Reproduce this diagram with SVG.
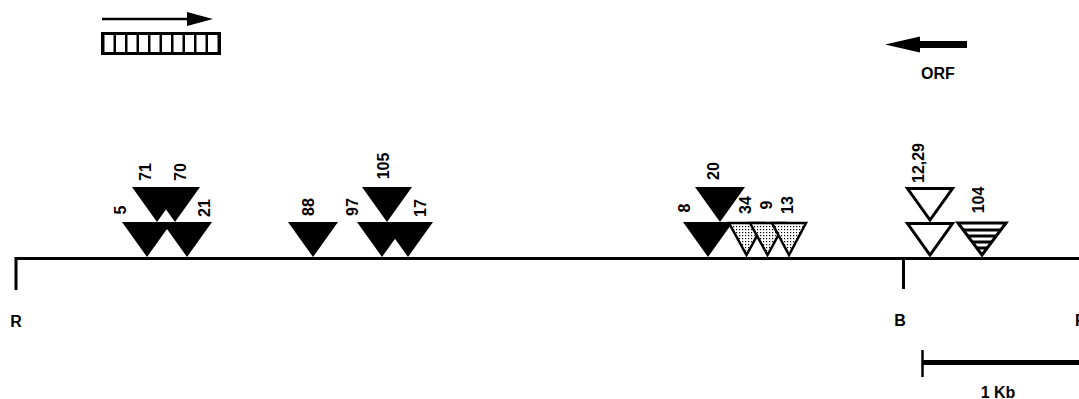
<svg xmlns="http://www.w3.org/2000/svg" width="1079" height="399" viewBox="0 0 1079 399">
<style>
.lbl{font-family:"Liberation Sans",Arial,sans-serif;font-size:16px;font-weight:bold;fill:#000}
.num{font-family:"Liberation Sans",Arial,sans-serif;font-size:16px;font-weight:bold;fill:#000;text-anchor:middle}
.blk{fill:#000}
.wht{fill:#fff;stroke:#000;stroke-width:3;stroke-linejoin:miter}
.dot{fill:url(#dots);stroke:#000;stroke-width:2.5}
.ln{stroke:#000;fill:none}
</style>
<defs>
<pattern id="dots" width="3" height="3" patternUnits="userSpaceOnUse">
<rect width="3" height="3" fill="#fff"/>
<rect x="1" y="1" width="1.2" height="1.2" fill="#000"/>
</pattern>
<clipPath id="tri104"><polygon points="958,223 1006,223 982,255"/></clipPath>
</defs>
<rect width="1079" height="399" fill="#fff"/>

<g id="transcript-arrow">
<line class="ln" x1="102" y1="19" x2="190" y2="19" stroke-width="2.5"/>
<polygon class="blk" points="187,12 213,19 187,26"/>
</g>
<g id="gene-box">
<rect x="101" y="32" width="120" height="23" fill="#000"/>
<g fill="#fff">
<rect x="104.5" y="35" width="9" height="17"/>
<rect x="116" y="35" width="9" height="17"/>
<rect x="127.5" y="35" width="9" height="17"/>
<rect x="139" y="35" width="9" height="17"/>
<rect x="150.5" y="35" width="9" height="17"/>
<rect x="162" y="35" width="9" height="17"/>
<rect x="173.5" y="35" width="9" height="17"/>
<rect x="185" y="35" width="9" height="17"/>
<rect x="196.5" y="35" width="9" height="17"/>
<rect x="208" y="35" width="9.5" height="17"/>
</g>
</g>

<g id="orf">
<rect x="916" y="41" width="51" height="7" fill="#000"/>
<polygon class="blk" points="885,44.5 920,36.5 920,52.5"/>
<text class="lbl" x="938" y="79" text-anchor="middle">ORF</text>
</g>

<g id="connectors">
<polyline class="ln" points="16,290 16,258.5 1079,258.5" stroke-width="3"/>
<line class="ln" x1="903.5" y1="258" x2="903.5" y2="289" stroke-width="3"/>
</g>

<g id="site-labels">
<text class="lbl" x="16" y="327" text-anchor="middle">R</text>
<text class="lbl" x="900" y="326" text-anchor="middle">B</text>
<text class="lbl" x="1075" y="326">R</text>
</g>

<g id="cluster1">
<polygon class="blk" points="122,222 172,222 147,257"/>
<polygon class="blk" points="162,222 212,222 187,257"/>
<polygon class="blk" points="132,187 182,187 157,222"/>
<polygon class="blk" points="150,187 200,187 175,222"/>
<text class="num" transform="translate(125.5,210) rotate(-90)">5</text>
<text class="num" transform="translate(150.5,172) rotate(-90)">71</text>
<text class="num" transform="translate(185.5,172) rotate(-90)">70</text>
<text class="num" transform="translate(209.5,208) rotate(-90)">21</text>
</g>

<g id="cluster2">
<polygon class="blk" points="288,222 338,222 313,257"/>
<polygon class="blk" points="357,222 407,222 382,257"/>
<polygon class="blk" points="383,222 433,222 408,257"/>
<polygon class="blk" points="362,187 412,187 387,222"/>
<text class="num" transform="translate(313.5,207) rotate(-90)">88</text>
<text class="num" transform="translate(357.5,207) rotate(-90)">97</text>
<text class="num" transform="translate(388.5,166) rotate(-90)">105</text>
<text class="num" transform="translate(425.5,208) rotate(-90)">17</text>
</g>

<g id="cluster3">
<polygon class="blk" points="683,222 733,222 708,257"/>
<polygon class="blk" points="695,187 745,187 720,222"/>
<polygon class="dot" points="729,223 764,223 746.5,255"/>
<polygon class="dot" points="750,223 785,223 767.5,255"/>
<polygon class="dot" points="772,223 806,223 789,255"/>
<text class="num" transform="translate(689.5,208) rotate(-90)">8</text>
<text class="num" transform="translate(718.5,171) rotate(-90)">20</text>
<text class="num" transform="translate(750.5,205) rotate(-90)">34</text>
<text class="num" transform="translate(771.5,205) rotate(-90)">9</text>
<text class="num" transform="translate(792.5,205) rotate(-90)">13</text>
</g>

<g id="cluster4">
<polygon class="wht" points="907.5,188.5 952.5,188.5 930,220"/>
<polygon class="wht" points="907.5,223.5 952.5,223.5 930,255"/>
<polygon points="958,223 1006,223 982,255" fill="#fff"/>
<g clip-path="url(#tri104)" stroke="#000" stroke-width="3">
<line x1="950" y1="230" x2="1010" y2="230"/>
<line x1="950" y1="236" x2="1010" y2="236"/>
<line x1="950" y1="242" x2="1010" y2="242"/>
<line x1="950" y1="248" x2="1010" y2="248"/>
</g>
<polygon points="958,223 1006,223 982,255" fill="none" stroke="#000" stroke-width="3"/>
<text class="num" transform="translate(923.5,163) rotate(-90)">12,29</text>
<text class="num" transform="translate(983.5,200) rotate(-90)">104</text>
</g>

<g id="scale-bar">
<line class="ln" x1="922.5" y1="350" x2="922.5" y2="377" stroke-width="2.5"/>
<line class="ln" x1="922" y1="362.5" x2="1079" y2="362.5" stroke-width="5"/>
<text class="lbl" x="998" y="398" text-anchor="middle" font-size="15">1 Kb</text>
</g>
</svg>
